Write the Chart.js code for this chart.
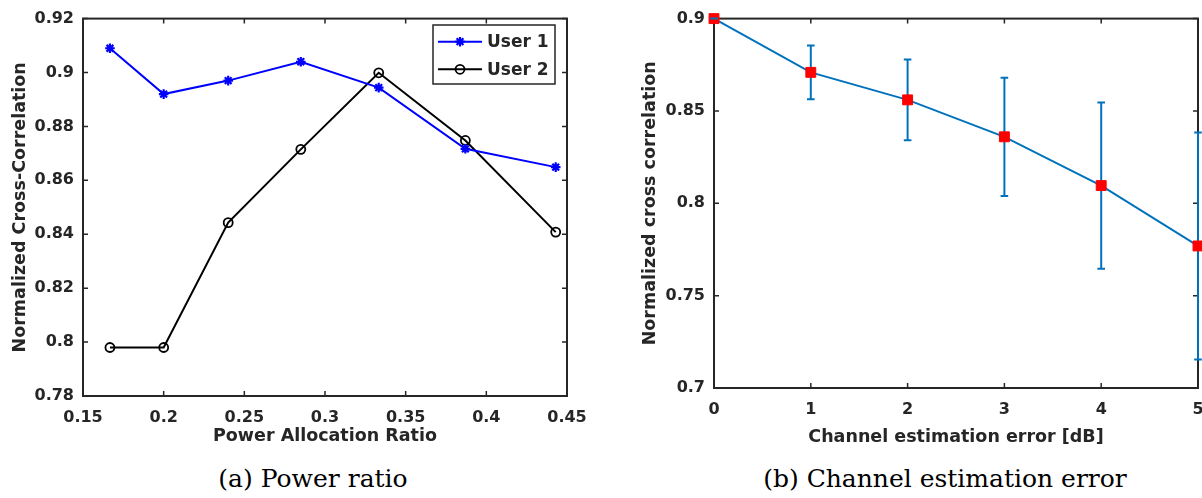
<!DOCTYPE html>
<html>
<head>
<meta charset="utf-8">
<title>Normalized cross-correlation</title>
<script src="https://cdn.jsdelivr.net/npm/chart.js@4.4.1/dist/chart.umd.min.js"></script>
<style>
  html, body { margin: 0; padding: 0; background: #fff; overflow: hidden; }
  #stage { position: relative; width: 1202px; height: 498px; overflow: hidden; background: #fff; }
  canvas { position: absolute; top: 0; }
  #chartA { left: 0; }
  #chartB { left: 601px; }
  .caption {
    position: absolute; top: 466px; font-family: 'DejaVu Serif', serif; font-size: 25px;
    line-height: 25px; color: #000; white-space: nowrap; transform: translateX(-50%);
  }
</style>
</head>
<body>
<div id="stage">
  <canvas id="chartA" width="600" height="460"></canvas>
  <canvas id="chartB" width="650" height="460"></canvas>
  <div class="caption" style="left:313px">(a) Power ratio</div>
  <div class="caption" style="left:945px">(b) Channel estimation error</div>
</div>
<script>
// (a) cross-correlation versus power allocation ratio
const powerRatio = [0.1667, 0.2, 0.24, 0.285, 0.3333, 0.387, 0.443];
const user1Corr = [0.909, 0.892, 0.897, 0.904, 0.8944, 0.8717, 0.8649];
const user2Corr = [0.798, 0.798, 0.8443, 0.8715, 0.8999, 0.8748, 0.8408];
const powerTicks = [0.15, 0.2, 0.25, 0.3, 0.35, 0.4, 0.45];
const powerTickLabels = ['0.15', '0.2', '0.25', '0.3', '0.35', '0.4', '0.45'];
const corrTicksA = [0.78, 0.8, 0.82, 0.84, 0.86, 0.88, 0.9, 0.92];
const corrTickLabelsA = ['0.78', '0.8', '0.82', '0.84', '0.86', '0.88', '0.9', '0.92'];

// (b) cross-correlation versus channel estimation error, mean and spread
const estErrorDb = [0, 1, 2, 3, 4, 5];
const corrMean = [0.9, 0.8709, 0.856, 0.836, 0.8096, 0.7769];
const corrSpread = [0, 0.0146, 0.0218, 0.032, 0.045, 0.0615];
const errTicks = [0, 1, 2, 3, 4, 5];
const errTickLabels = ['0', '1', '2', '3', '4', '5'];
const corrTicksB = [0.7, 0.75, 0.8, 0.85, 0.9];
const corrTickLabelsB = ['0.7', '0.75', '0.8', '0.85', '0.9'];

const INK = '#262626';
const SANS = "'DejaVu Sans', sans-serif";

// axes box with inward tick marks on all four sides
const frame = {
  id: 'frame',
  beforeDatasetsDraw(chart, args, o) {
    const { ctx, chartArea: a, scales: { x, y } } = chart;
    ctx.save();
    ctx.strokeStyle = o.color;
    ctx.lineWidth = o.tickWidth;
    ctx.beginPath();
    x.ticks.forEach(t => {
      const px = x.getPixelForValue(t.value);
      ctx.moveTo(px, a.bottom); ctx.lineTo(px, a.bottom - o.tickLength);
      ctx.moveTo(px, a.top); ctx.lineTo(px, a.top + o.tickLength);
    });
    y.ticks.forEach(t => {
      const py = y.getPixelForValue(t.value);
      ctx.moveTo(a.left, py); ctx.lineTo(a.left + o.tickLength, py);
      ctx.moveTo(a.right, py); ctx.lineTo(a.right - o.tickLength, py);
    });
    ctx.stroke();
    ctx.lineWidth = o.lineWidth;
    ctx.strokeRect(a.left, a.top, a.right - a.left, a.bottom - a.top);
    ctx.restore();
  }
};

// vertical error bars under the markers, caps over them
const errorBars = {
  id: 'errorBars',
  eachBar(chart, fn) {
    const { scales: { x, y } } = chart;
    chart.data.datasets.forEach(ds => {
      if (!ds.errorBars) return;
      ds.data.forEach((p, i) => {
        const e = ds.errorBars[i];
        fn(chart.ctx, ds, x.getPixelForValue(p.x), y.getPixelForValue(p.y + e), y.getPixelForValue(p.y - e));
      });
    });
  },
  beforeDatasetsDraw(chart, args, o) {
    chart.ctx.save();
    this.eachBar(chart, (ctx, ds, px, top, bot) => {
      ctx.strokeStyle = ds.borderColor; ctx.lineWidth = ds.borderWidth;
      ctx.beginPath(); ctx.moveTo(px, top); ctx.lineTo(px, bot); ctx.stroke();
    });
    chart.ctx.restore();
  },
  afterDatasetsDraw(chart, args, o) {
    chart.ctx.save();
    this.eachBar(chart, (ctx, ds, px, top, bot) => {
      ctx.strokeStyle = ds.borderColor; ctx.lineWidth = ds.borderWidth;
      ctx.beginPath();
      ctx.moveTo(px - o.capHalf, top); ctx.lineTo(px + o.capHalf, top);
      ctx.moveTo(px - o.capHalf, bot); ctx.lineTo(px + o.capHalf, bot);
      ctx.stroke();
    });
    chart.ctx.restore();
  }
};

// boxed legend inside the plot area
const boxLegend = {
  id: 'boxLegend',
  afterDatasetsDraw(chart, args, o) {
    if (!o.show) return;
    const ctx = chart.ctx;
    ctx.save();
    ctx.fillStyle = '#fff';
    ctx.fillRect(o.left, o.top, o.width, o.height);
    ctx.strokeStyle = INK; ctx.lineWidth = 1.5;
    ctx.strokeRect(o.left, o.top, o.width, o.height);
    chart.data.datasets.forEach((ds, i) => {
      const cy = o.top + o.firstRow + i * o.rowGap;
      ctx.strokeStyle = ds.borderColor; ctx.lineWidth = ds.borderWidth;
      ctx.beginPath(); ctx.moveTo(o.left + o.lineFrom, cy); ctx.lineTo(o.left + o.lineTo, cy); ctx.stroke();
      ctx.fillStyle = ds.pointBackgroundColor; ctx.strokeStyle = ds.pointBorderColor; ctx.lineWidth = ds.pointBorderWidth;
      Chart.helpers.drawPoint(ctx, { pointStyle: ds.pointStyle, radius: ds.pointRadius, borderWidth: ds.pointBorderWidth, rotation: 0 },
        o.left + (o.lineFrom + o.lineTo) / 2, cy);
      ctx.fillStyle = INK;
      ctx.font = `bold ${o.fontSize}px ${SANS}`;
      ctx.textBaseline = 'middle'; ctx.textAlign = 'left';
      ctx.fillText(ds.label, o.left + o.textAt, cy + 1);
    });
    ctx.restore();
  }
};

function axis(min, max, ticks, labels, opts) {
  return {
    type: 'linear', min, max,
    afterBuildTicks: s => { s.ticks = ticks.map(v => ({ value: v })); },
    ticks: {
      callback: (v, i) => labels[i], color: INK, padding: opts.pad,
      font: { family: SANS, size: 16, weight: 'bold' }, maxRotation: 0, autoSkip: false
    },
    grid: { display: false, drawTicks: false },
    border: { display: false },
    title: {
      display: true, text: opts.title, color: INK,
      font: { family: SANS, size: 17.5, weight: 'bold' }, padding: opts.titlePad
    },
    afterFit: opts.fit
  };
}

function baseOptions(pad, legendOpts) {
  return {
    responsive: false, animation: false, events: [],
    layout: { padding: pad },
    plugins: {
      legend: { display: false }, tooltip: { enabled: false },
      frame: { color: INK, lineWidth: 2, tickWidth: 1.5, tickLength: 5 },
      errorBars: { capHalf: 3.8 },
      boxLegend: legendOpts
    }
  };
}

const optsA = baseOptions({ left: 0, top: 15, right: 33, bottom: 4 }, {
  show: true, left: 433, top: 25, width: 122, height: 59,
  firstRow: 16.7, rowGap: 27.6, lineFrom: 5, lineTo: 49, textAt: 54, fontSize: 17
});
optsA.scales = {
  x: axis(0.15, 0.45, powerTicks, powerTickLabels, {
    pad: 12, title: 'Power Allocation Ratio', titlePad: { top: 0, bottom: 8.8 }, fit: s => { s.height = 60; }
  }),
  y: axis(0.78, 0.92, corrTicksA, corrTickLabelsA, {
    pad: 9, title: 'Normalized Cross-Correlation', titlePad: { top: 9.8, bottom: 0 }, fit: s => { s.width = 83; }
  })
};

new Chart(document.getElementById('chartA'), {
  type: 'line',
  data: {
    datasets: [
      {
        label: 'User 1', data: powerRatio.map((x, i) => ({ x, y: user1Corr[i] })),
        borderColor: '#0000ff', backgroundColor: '#0000ff', borderWidth: 2,
        pointStyle: 'star', pointRadius: 4.8, pointBorderWidth: 2.2,
        pointBackgroundColor: '#0000ff', pointBorderColor: '#0000ff', clip: false
      },
      {
        label: 'User 2', data: powerRatio.map((x, i) => ({ x, y: user2Corr[i] })),
        borderColor: '#000000', backgroundColor: '#000000', borderWidth: 2,
        pointStyle: 'circle', pointRadius: 4.5, pointBorderWidth: 1.8,
        pointBackgroundColor: 'rgba(0,0,0,0)', pointBorderColor: '#000000', clip: false
      }
    ]
  },
  options: optsA,
  plugins: [frame, boxLegend]
});

const optsB = baseOptions({ left: 0, top: 15, right: 53, bottom: 12 }, { show: false });
optsB.scales = {
  x: axis(0, 5, errTicks, errTickLabels, {
    pad: 12, title: 'Channel estimation error [dB]', titlePad: { top: 0, bottom: 0.5 }, fit: s => { s.height = 60; }
  }),
  y: axis(0.7, 0.9, corrTicksB, corrTickLabelsB, {
    pad: 9, title: 'Normalized cross correlation', titlePad: { top: 38.8, bottom: 0 }, fit: s => { s.width = 113; }
  })
};

new Chart(document.getElementById('chartB'), {
  type: 'line',
  data: {
    datasets: [{
      label: 'Normalized cross correlation', data: estErrorDb.map((x, i) => ({ x, y: corrMean[i] })),
      errorBars: corrSpread,
      borderColor: '#0072bd', backgroundColor: '#0072bd', borderWidth: 2,
      pointStyle: 'rect', pointRadius: 7, pointBorderWidth: 1,
      pointBackgroundColor: '#ff0000', pointBorderColor: '#ff0000', clip: false
    }]
  },
  options: optsB,
  plugins: [frame, errorBars]
});
</script>
</body>
</html>
